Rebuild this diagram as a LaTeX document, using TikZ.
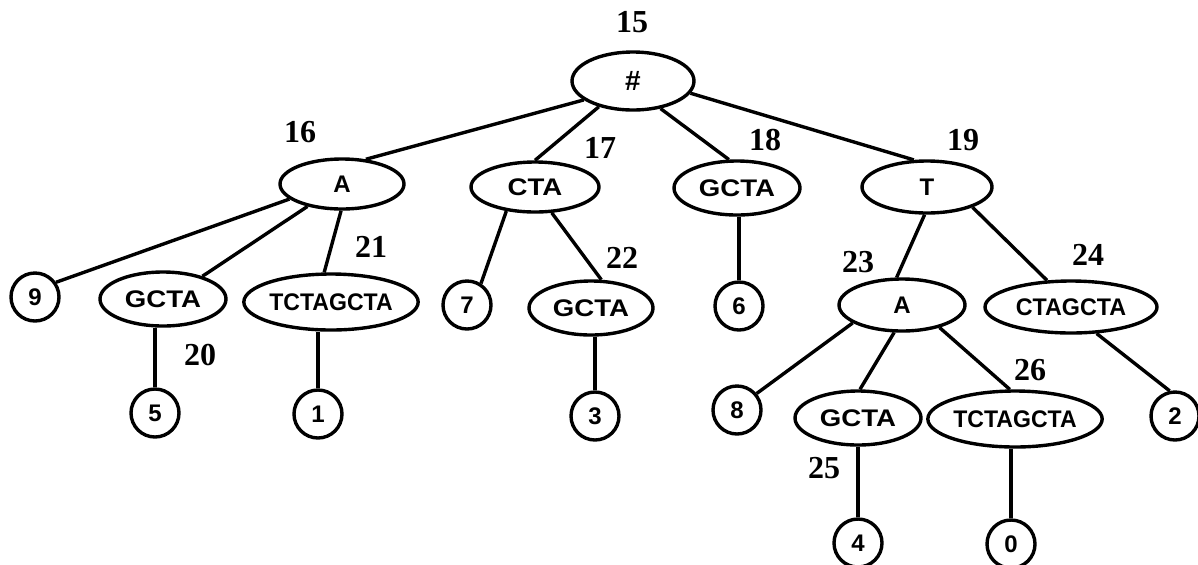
\documentclass[tikz,border=0pt]{standalone}
\usepackage{fontspec}
\setmainfont{Liberation Serif}
\newfontfamily\seqfont{Liberation Sans}
\usetikzlibrary{shapes.geometric}
\newcommand\stretchtext[2]{\scalebox{#1}[1]{#2}}
\tikzset{
  seq/.style={ellipse, draw, line width=1.7pt, inner sep=0pt,
    font=\seqfont\bfseries\fontsize{12}{14}\selectfont},
  leaf/.style={circle, draw, line width=1.7pt, minimum size=24pt, inner sep=0pt,
    font=\seqfont\bfseries\fontsize{12}{14}\selectfont},
  num/.style={inner sep=0pt, font=\bfseries\fontsize{16}{18}\selectfont},
  edge/.style={line width=1.7pt},
}
\begin{document}
\begin{tikzpicture}[x=0.5pt,y=-0.5pt]
\useasboundingbox (0,0) rectangle (1198,564);

% internal nodes
\node[seq, minimum width=61pt, minimum height=29pt, font=\seqfont\bfseries\fontsize{14}{16}\selectfont] (root) at (633,81) {\#};
\node[seq, minimum width=62pt, minimum height=25pt] (n16) at (342,184) {A};
\node[seq, minimum width=64pt, minimum height=25pt] (n17) at (535,187) {\stretchtext{1.15}{CTA}};
\node[seq, minimum width=63pt, minimum height=27pt] (n18) at (737,188) {\stretchtext{1.15}{GCTA}};
\node[seq, minimum width=65pt, minimum height=26pt] (n19) at (927,187) {T};
\node[seq, minimum width=63pt, minimum height=27pt] (n20) at (163,299) {\stretchtext{1.15}{GCTA}};
\node[seq, minimum width=84pt, minimum height=28pt] (n21) at (331,302) {\stretchtext{0.96}{TCTAGCTA}};
\node[seq, minimum width=62pt, minimum height=27pt] (n22) at (591,308) {\stretchtext{1.15}{GCTA}};
\node[seq, minimum width=63pt, minimum height=26pt] (n23) at (902,305) {A};
\node[seq, minimum width=86pt, minimum height=26pt] (n24) at (1071,307) {\stretchtext{0.97}{CTAGCTA}};
\node[seq, minimum width=63pt, minimum height=27pt] (n25) at (858,418) {\stretchtext{1.15}{GCTA}};
\node[seq, minimum width=84pt, minimum height=28pt] (n26) at (1015,419) {\stretchtext{0.96}{TCTAGCTA}};

% leaves
\node[leaf] (l9) at (35,297) {9};
\node[leaf] (l7) at (467,305) {7};
\node[leaf] (l6) at (739,306) {6};
\node[leaf] (l5) at (155,413) {5};
\node[leaf] (l1) at (318,414) {1};
\node[leaf] (l3) at (595,416) {3};
\node[leaf] (l8) at (737,410) {8};
\node[leaf] (l2) at (1175,416) {2};
\node[leaf] (l4) at (858,543) {4};
\node[leaf] (l0) at (1011,544) {0};

% node numbers
\node[num] (t15) at (632,22) {15};
\node[num] (t16) at (300,132) {16};
\node[num] (t17) at (600,148) {17};
\node[num] (t18) at (765,140) {18};
\node[num] (t19) at (963,140) {19};
\node[num] (t20) at (200,355) {20};
\node[num] (t21) at (371,247) {21};
\node[num] (t22) at (622,258) {22};
\node[num] (t23) at (858,262) {23};
\node[num] (t24) at (1088,255) {24};
\node[num] (t25) at (824,468) {25};
\node[num] (t26) at (1030,370) {26};

% tree edges
\draw[edge] (root.201) -- (n16.46);
\draw[edge] (root.217) -- (n17.90);
\draw[edge] (root.315) -- (n18.106);
\draw[edge] (root.348) -- (n19.116);
\draw[edge] (n16.196) -- (l9.35);
\draw[edge] (n16.213) -- (n20.30);
\draw[edge] (n16.268) -- (n21.103);
\draw[edge] (n17.220) -- (l7.57);
\draw[edge] (n17.303) -- (n22.70);
\draw[edge] (l6 |- n18.south) -- (l6);
\draw[edge] (n19.265) -- (n23.101);
\draw[edge] (n19.336) -- (n24.132);
\draw[edge] (l5 |- n20.south) -- (l5);
\draw[edge] (l1 |- n21.south) -- (l1);
\draw[edge] (l3 |- n22.south) -- (l3);
\draw[edge] (n23.200) -- (l8.40);
\draw[edge] (n23.254) -- (n25.86);
\draw[edge] (n23.329) -- (n26.100);
\draw[edge] (n24.314) -- (l2.102);
\draw[edge] (l4 |- n25.south) -- (l4);
\draw[edge] (l0 |- n26.south) -- (l0);
\end{tikzpicture}
\end{document}
